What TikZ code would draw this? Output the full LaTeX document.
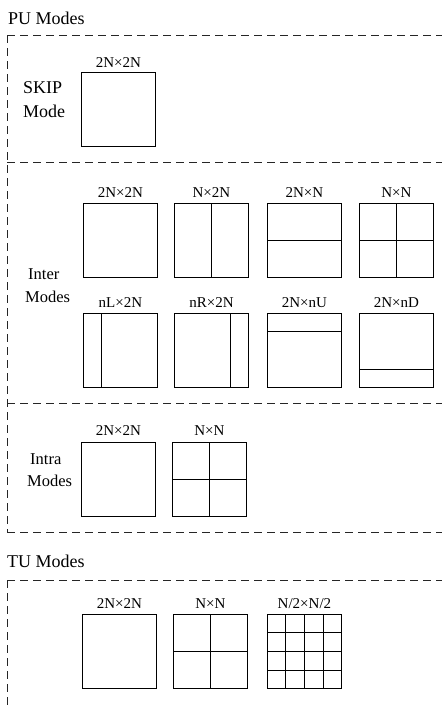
\documentclass[tikz,border=0pt]{standalone}
\usepackage{fontspec}
\setmainfont{Liberation Serif}
\usetikzlibrary{calc}
\begin{document}
\begin{tikzpicture}[x=1pt,y=-1pt,
  pubox/.style={draw=black, line width=0.9pt, minimum size=74pt, inner sep=0pt, anchor=north west},
  split/.style={draw=black, line width=0.9pt},
  sizelab/.style={font=\fontsize{15}{15}\selectfont, anchor=base, inner sep=0pt},
  header/.style={font=\fontsize{18}{18}\selectfont, anchor=base west, inner sep=0pt},
  modelab/.style={font=\fontsize{16.5}{16.5}\selectfont, anchor=base west, inner sep=0pt},
  skiplab/.style={font=\fontsize{18}{18}\selectfont, anchor=base west, inner sep=0pt},
  frame/.style={draw=black!85, line width=0.9pt, dash pattern=on 8pt off 5pt}]
\useasboundingbox (0,0) rectangle (442,705);

% headers
\node[header] (pu) at (8,24) {PU Modes};
\node[header] (tu) at (7,567) {TU Modes};

% frame coordinates
\coordinate (p0) at (7,35);   \coordinate (p0r) at (442,35);
\coordinate (p1) at (7,162);  \coordinate (p1r) at (442,162);
\coordinate (p2) at (7,403);  \coordinate (p2r) at (442,403);
\coordinate (p3) at (7,532);  \coordinate (p3r) at (442,532);
\coordinate (t0) at (7,580);  \coordinate (t0r) at (442,580);
\coordinate (t1) at (7,705);

\draw[frame] (p0) -- (p0r);
\draw[frame] (p0) -- (p3);
\draw[frame] (p1) -- (p1r);
\draw[frame] (p2) -- (p2r);
\draw[frame] (p3) -- (p3r);
\draw[frame] (t0) -- (t0r);
\draw[frame] (t0) -- (t1);

% SKIP
\node[skiplab] (skip1) at (23,93) {SKIP};
\node[skiplab] (skip2) at (23,117) {Mode};
\node[pubox] (s1) at (81,72) {};
\node[sizelab] (s1l) at ($(s1.north)+(0,-5)$) {2N×2N};

% Inter
\node[modelab] (inter1) at (28,279) {Inter};
\node[modelab] (inter2) at (25,302) {Modes};
\node[pubox] (a1) at (83,203) {};
\node[pubox] (a2) at (174,203) {};
\node[pubox] (a3) at (267,203) {};
\node[pubox] (a4) at (359,203) {};
\node[pubox] (b1) at (83,313) {};
\node[pubox] (b2) at (174,313) {};
\node[pubox] (b3) at (267,313) {};
\node[pubox] (b4) at (359,313) {};
\node[sizelab] (a1l) at ($(a1.north)+(0,-6)$) {2N×2N};
\node[sizelab] (a2l) at ($(a2.north)+(0,-6)$) {N×2N};
\node[sizelab] (a3l) at ($(a3.north)+(0,-6)$) {2N×N};
\node[sizelab] (a4l) at ($(a4.north)+(0,-6)$) {N×N};
\node[sizelab] (b1l) at ($(b1.north)+(0,-6)$) {nL×2N};
\node[sizelab] (b2l) at ($(b2.north)+(0,-6)$) {nR×2N};
\node[sizelab] (b3l) at ($(b3.north)+(0,-6)$) {2N×nU};
\node[sizelab] (b4l) at ($(b4.north)+(0,-6)$) {2N×nD};
\draw[split] (a2.north) -- (a2.south);
\draw[split] (a3.west) -- (a3.east);
\draw[split] (a4.north) -- (a4.south);
\draw[split] (a4.west) -- (a4.east);
\draw[split] ($(b1.north west)!0.25!(b1.north east)$) -- ($(b1.south west)!0.25!(b1.south east)$);
\draw[split] ($(b2.north west)!0.75!(b2.north east)$) -- ($(b2.south west)!0.75!(b2.south east)$);
\draw[split] ($(b3.north west)!0.25!(b3.south west)$) -- ($(b3.north east)!0.25!(b3.south east)$);
\draw[split] ($(b4.north west)!0.75!(b4.south west)$) -- ($(b4.north east)!0.75!(b4.south east)$);

% Intra
\node[modelab] (intra1) at (30,464) {Intra};
\node[modelab] (intra2) at (27,486) {Modes};
\node[pubox] (c1) at (81,442) {};
\node[pubox] (c2) at (172,442) {};
\node[sizelab] (c1l) at ($(c1.north)+(0,-7)$) {2N×2N};
\node[sizelab] (c2l) at ($(c2.north)+(0,-7)$) {N×N};
\draw[split] (c2.north) -- (c2.south);
\draw[split] (c2.west) -- (c2.east);

% TU
\node[pubox] (d1) at (82,614) {};
\node[pubox] (d2) at (173,614) {};
\node[pubox] (d3) at (267,614) {};
\node[sizelab] (d1l) at ($(d1.north)+(0,-6)$) {2N×2N};
\node[sizelab] (d2l) at ($(d2.north)+(0,-6)$) {N×N};
\node[sizelab] (d3l) at ($(d3.north)+(0,-6)$) {N/2×N/2};
\draw[split] (d2.north) -- (d2.south);
\draw[split] (d2.west) -- (d2.east);
\foreach \f in {0.25,0.5,0.75}{
  \draw[split] ($(d3.north west)!\f!(d3.north east)$) -- ($(d3.south west)!\f!(d3.south east)$);
  \draw[split] ($(d3.north west)!\f!(d3.south west)$) -- ($(d3.north east)!\f!(d3.south east)$);
}
\end{tikzpicture}
\end{document}
